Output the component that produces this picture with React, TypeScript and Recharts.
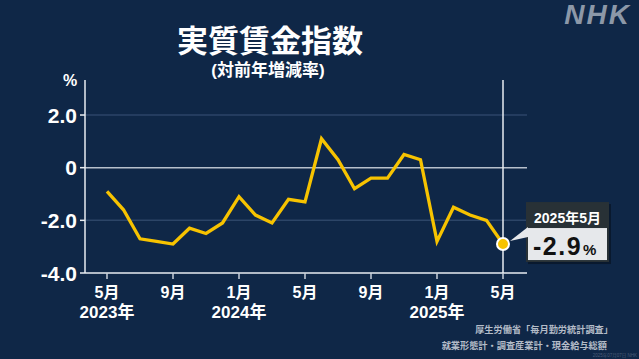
import React from 'react';
import { LineChart, Line, XAxis, YAxis, ReferenceLine, ReferenceDot } from 'recharts';

const periods = [
  '2023年5月', '2023年6月', '2023年7月', '2023年8月', '2023年9月', '2023年10月', '2023年11月', '2023年12月',
  '2024年1月', '2024年2月', '2024年3月', '2024年4月', '2024年5月', '2024年6月', '2024年7月', '2024年8月',
  '2024年9月', '2024年10月', '2024年11月', '2024年12月',
  '2025年1月', '2025年2月', '2025年3月', '2025年4月', '2025年5月',
];
const realWageChange = [
  -0.9, -1.6, -2.7, -2.8, -2.9, -2.3, -2.5, -2.1,
  -1.1, -1.8, -2.1, -1.2, -1.3, 1.1, 0.3, -0.8,
  -0.4, -0.4, 0.5, 0.3,
  -2.8, -1.5, -1.8, -2.0, -2.9,
];
const monthTicks = ['5月', '9月', '1月', '5月', '9月', '1月', '5月'];
const yearTicks = ['2023年', '', '2024年', '', '', '2025年', ''];
const yTicks = [2, 0, -2, -4];
const yTickLabels = ['2.0', '0', '-2.0', '-4.0'];

const data = periods.map((p, i) => ({ period: p, value: realWageChange[i] }));
const last = data[data.length - 1];

const NAVY = '#0f2747';
const YELLOW = '#f7c300';
const FONT = '"Liberation Sans", "Noto Sans CJK JP", sans-serif';
const JP = '"Noto Sans CJK JP", sans-serif';

const XTick = (props: any) => {
  const idx = periods.indexOf(props.payload.value) / 4;
  return (
    <g>
      <text x={props.x} y={298} textAnchor="middle" fill="#fff" fontSize={16} fontWeight="bold" fontFamily={FONT}>
        {monthTicks[idx]}
      </text>
      <text x={props.x} y={318} textAnchor="middle" fill="#fff" fontSize={17} fontWeight="bold" fontFamily={FONT}>
        {yearTicks[idx]}
      </text>
    </g>
  );
};

const YTick = (props: any) => {
  const label = yTickLabels[yTicks.indexOf(props.payload.value)];
  return (
    <text x={77} y={props.y} dy={7.5} textAnchor="end" fill="#fff" fontSize={21} fontWeight="bold" fontFamily={FONT}>
      {label}
    </text>
  );
};

const LastDot = (props: any) => {
  if (props.index !== data.length - 1) return <g key={props.index} />;
  return <circle key={props.index} cx={props.cx} cy={props.cy} r={6} fill={YELLOW} stroke="#fff" strokeWidth={2} />;
};

const Callout = (props: any) => {
  const { cx, cy } = props;
  const bx = cx + 23;
  const by = cy - 42;
  return (
    <g>
      <rect x={bx + 2} y={by + 2} width={83} height={60} fill="rgba(0,0,0,0.35)" />
      <rect x={bx} y={by} width={83} height={60} fill="#283136" />
      <rect x={bx + 2} y={by + 26} width={79} height={32} fill="#e6e8eb" />
      <polygon points={`${cx + 7},${cy - 3} ${bx + 2},${by + 25} ${bx + 2},${by + 35}`} fill="#e6e8eb" />
      <text x={bx + 41.5} y={by + 21} textAnchor="middle" fill="#fff" fontSize={14} fontWeight="bold" fontFamily={FONT}>
        2025年5月
      </text>
      <text x={bx + 7} y={by + 53} fill="#111" fontWeight="bold" fontFamily={FONT}>
        <tspan fontSize={25} letterSpacing={1.5}>{last.value.toFixed(1)}</tspan>
        <tspan fontSize={15} dx={1}>%</tspan>
      </text>
    </g>
  );
};

export default function App() {
  return (
    <div style={{ position: 'absolute', left: 0, top: 0, width: 639, height: 359, background: NAVY, overflow: 'hidden', fontFamily: FONT }}>
      <div style={{ position: 'absolute', left: 0, width: 540, top: 27, textAlign: 'center', color: '#fff', fontSize: 31, fontWeight: 'bold', lineHeight: '30px', fontFamily: FONT }}>
        実質賃金指数
      </div>
      <div style={{ position: 'absolute', left: 0, width: 536, top: 62, textAlign: 'center', color: '#fff', fontSize: 17, fontWeight: 'bold', lineHeight: '18px', fontFamily: FONT }}>
        (対前年増減率)
      </div>
      <div style={{ position: 'absolute', left: 63, top: 72, color: '#fff', fontSize: 16, fontWeight: 'bold', lineHeight: '18px' }}>%</div>
      <div style={{ position: 'absolute', right: 8, top: 0, color: '#8c98a8', fontSize: 28, fontWeight: 'bold', fontStyle: 'italic', letterSpacing: 2, lineHeight: '30px' }}>
        NHK
      </div>
      <LineChart width={639} height={359} data={data} margin={{ top: 80, right: 112, bottom: 56, left: 0 }}>
        <XAxis
          dataKey="period"
          interval={3}
          padding={{ left: 22, right: 24 }}
          height={30}
          tick={<XTick />}
          tickSize={6}
          axisLine={{ stroke: '#e8ecf0', strokeWidth: 1.5 }}
          tickLine={{ stroke: '#c8d0da', strokeWidth: 1.5 }}
        />
        <YAxis
          width={85}
          domain={[-4, 3.33]}
          ticks={yTicks}
          allowDataOverflow
          tick={<YTick />}
          tickSize={5}
          axisLine={{ stroke: '#e8ecf0', strokeWidth: 1.5 }}
          tickLine={{ stroke: '#e8ecf0', strokeWidth: 1.5 }}
        />
        <ReferenceLine y={2} stroke="#2c4567" strokeWidth={1.5} />
        <ReferenceLine y={-2} stroke="#2c4567" strokeWidth={1.5} />
        <ReferenceLine y={0} stroke="#b7c0cc" strokeWidth={1.5} />
        <ReferenceLine x={last.period} stroke="#e8ecf0" strokeWidth={1.5} />
        <Line
          dataKey="value"
          stroke={YELLOW}
          strokeWidth={3.3}
          dot={LastDot}
          activeDot={false}
          isAnimationActive={false}
        />
        <ReferenceDot x={last.period} y={last.value} r={6} shape={Callout} />
      </LineChart>
      <div style={{ position: 'absolute', right: 26, top: 323, color: '#b4bcc8', fontSize: 9.2, fontWeight: 'bold', lineHeight: '12px', textAlign: 'right', fontFamily: JP }}>
        厚生労働省「毎月勤労統計調査」
      </div>
      <div style={{ position: 'absolute', right: 32, top: 339, color: '#b4bcc8', fontSize: 9.2, fontWeight: 'bold', lineHeight: '12px', textAlign: 'right', fontFamily: JP }}>
        就業形態計・調査産業計・現金給与総額
      </div>
      <div style={{ position: 'absolute', right: 2, top: 353, color: '#4a5d78', fontSize: 4.5, lineHeight: '5px' }}>
        2025年07月07日 NHK
      </div>
    </div>
  );
}
